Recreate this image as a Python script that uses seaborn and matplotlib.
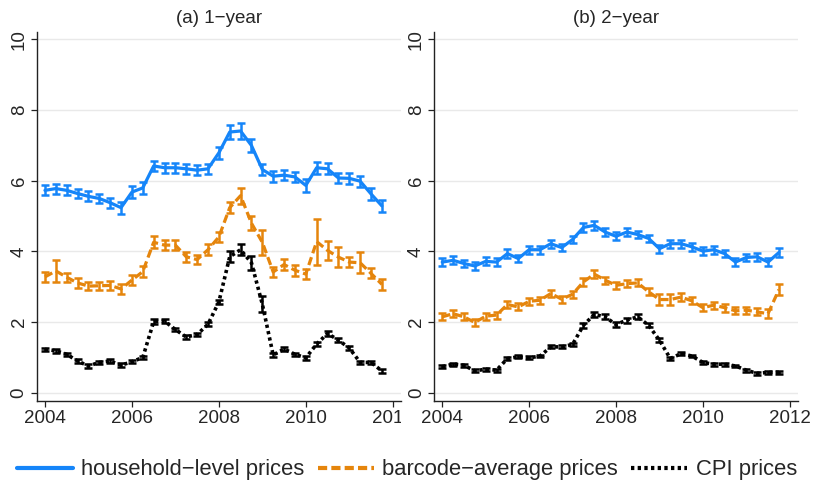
import numpy as np
import pandas as pd
import matplotlib
matplotlib.use("Agg")
import matplotlib.pyplot as plt
from matplotlib.lines import Line2D
from matplotlib.transforms import Bbox, TransformedBbox
import seaborn as sns

# ---- data -------------------------------------------------------------
quarters = pd.period_range("2004Q1", "2011Q4", freq="Q")

# (a) 1-year horizon
hh_1y = [5.73, 5.78, 5.73, 5.64, 5.56, 5.50, 5.38, 5.24, 5.68, 5.80, 6.42, 6.37,
         6.37, 6.34, 6.30, 6.34, 6.79, 7.38, 7.41, 7.00, 6.32, 6.13, 6.16, 6.11,
         5.87, 6.37, 6.34, 6.08, 6.07, 5.99, 5.63, 5.29]
hh_1y_err = [0.14, 0.14, 0.14, 0.14, 0.14, 0.14, 0.14, 0.17, 0.17, 0.16, 0.15, 0.14,
             0.14, 0.14, 0.14, 0.14, 0.16, 0.19, 0.22, 0.19, 0.16, 0.15, 0.15, 0.15,
             0.18, 0.17, 0.16, 0.15, 0.15, 0.16, 0.18, 0.18]
bc_1y = [3.28, 3.45, 3.27, 3.11, 3.02, 3.03, 3.04, 2.94, 3.19, 3.43, 4.26, 4.18,
         4.18, 3.85, 3.77, 4.05, 4.41, 5.24, 5.58, 4.80, 4.26, 3.42, 3.63, 3.47,
         3.36, 4.28, 4.03, 3.84, 3.70, 3.68, 3.38, 3.07]
bc_1y_err = [0.14, 0.31, 0.13, 0.13, 0.12, 0.11, 0.12, 0.15, 0.14, 0.15, 0.17, 0.14,
             0.14, 0.14, 0.12, 0.15, 0.13, 0.16, 0.23, 0.20, 0.36, 0.14, 0.16, 0.16,
             0.15, 0.65, 0.27, 0.29, 0.15, 0.30, 0.14, 0.16]
cpi_1y = [1.23, 1.19, 1.09, 0.90, 0.76, 0.86, 0.90, 0.78, 0.88, 1.00, 2.01, 2.03,
          1.79, 1.58, 1.65, 1.94, 2.57, 3.85, 4.05, 3.68, 2.51, 1.07, 1.24, 1.09,
          0.99, 1.38, 1.68, 1.49, 1.27, 0.86, 0.86, 0.62]
cpi_1y_err = [0.05, 0.05, 0.05, 0.05, 0.05, 0.05, 0.05, 0.05, 0.05, 0.05, 0.07, 0.06,
              0.05, 0.05, 0.05, 0.06, 0.07, 0.16, 0.15, 0.19, 0.22, 0.06, 0.05, 0.05,
              0.05, 0.06, 0.06, 0.05, 0.05, 0.05, 0.05, 0.05]

# (b) 2-year horizon
hh_2y = [3.70, 3.75, 3.66, 3.59, 3.72, 3.70, 3.94, 3.80, 4.05, 4.05, 4.22, 4.11,
         4.34, 4.68, 4.74, 4.55, 4.43, 4.55, 4.48, 4.37, 4.08, 4.22, 4.22, 4.13,
         4.01, 4.05, 3.94, 3.70, 3.83, 3.85, 3.70, 3.97]
hh_2y_err = [0.11, 0.11, 0.11, 0.11, 0.11, 0.11, 0.12, 0.11, 0.11, 0.11, 0.11, 0.11,
             0.11, 0.12, 0.12, 0.11, 0.11, 0.11, 0.11, 0.11, 0.11, 0.11, 0.11, 0.11,
             0.11, 0.11, 0.11, 0.11, 0.11, 0.11, 0.12, 0.14]
bc_2y = [2.15, 2.24, 2.15, 1.99, 2.17, 2.20, 2.50, 2.43, 2.59, 2.62, 2.81, 2.65,
         2.79, 3.14, 3.36, 3.19, 3.04, 3.09, 3.11, 2.86, 2.64, 2.64, 2.71, 2.60,
         2.41, 2.48, 2.41, 2.32, 2.34, 2.29, 2.24, 2.92]
bc_2y_err = [0.10, 0.10, 0.10, 0.10, 0.10, 0.10, 0.10, 0.10, 0.10, 0.10, 0.10, 0.10,
             0.10, 0.12, 0.12, 0.10, 0.10, 0.10, 0.10, 0.10, 0.16, 0.16, 0.11, 0.10,
             0.10, 0.10, 0.11, 0.10, 0.10, 0.10, 0.13, 0.16]
cpi_2y = [0.74, 0.81, 0.78, 0.62, 0.67, 0.64, 0.97, 1.02, 0.99, 1.04, 1.30, 1.30,
          1.37, 1.91, 2.22, 2.15, 1.93, 2.06, 2.15, 1.91, 1.49, 0.97, 1.11, 1.04,
          0.86, 0.81, 0.81, 0.76, 0.64, 0.55, 0.58, 0.58]
cpi_2y_err = [0.04, 0.04, 0.04, 0.04, 0.04, 0.04, 0.04, 0.04, 0.04, 0.04, 0.04, 0.04,
              0.04, 0.07, 0.07, 0.07, 0.07, 0.07, 0.07, 0.06, 0.06, 0.05, 0.04, 0.04,
              0.04, 0.04, 0.04, 0.04, 0.04, 0.04, 0.04, 0.04]

series_names = ["household\u2212level prices", "barcode\u2212average prices", "CPI prices"]
panel_titles = ["(a) 1\u2212year", "(b) 2\u2212year"]
year_ticks = [2004, 2006, 2008, 2010, 2012]
value_ticks = [0, 2, 4, 6, 8, 10]

# ---- styling ----------------------------------------------------------
sns.set_theme(style="white")
plt.rcParams["font.family"] = ["Liberation Sans", "DejaVu Sans"]

colors = {series_names[0]: "#1585F9", series_names[1]: "#E5850C", series_names[2]: "#000000"}
dashes = {series_names[0]: "", series_names[1]: (2.6, 1.3), series_names[2]: (0.9, 0.9)}
widths = {series_names[0]: 2.3, series_names[1]: 2.3, series_names[2]: 2.6}

year_pos = quarters.year + (quarters.quarter - 1) / 4.0

panels = [
    [(hh_1y, hh_1y_err), (bc_1y, bc_1y_err), (cpi_1y, cpi_1y_err)],
    [(hh_2y, hh_2y_err), (bc_2y, bc_2y_err), (cpi_2y, cpi_2y_err)],
]

W, H = 814, 484
fig = plt.figure(figsize=(W / 100, H / 100), dpi=100)
ax_px = [(36.7, 401.0), (434.0, 798.0)]
top_px, bot_px = 31.7, 401.3

for i, (panel, (x0, x1)) in enumerate(zip(panels, ax_px)):
    ax = fig.add_axes([x0 / W, 1 - bot_px / H, (x1 - x0) / W, (bot_px - top_px) / H])
    frames = []
    for name, (vals, errs) in zip(series_names, panel):
        frames.append(pd.DataFrame({"year": year_pos, "value": vals, "err": errs,
                                    "series": name}))
    df = pd.concat(frames, ignore_index=True)

    for y in value_ticks:
        ax.axhline(y, color="#e9e9e9", lw=1.0, zorder=0)

    for name in series_names:
        sub = df[df["series"] == name]
        sns.lineplot(data=sub, x="year", y="value", color=colors[name],
                     lw=widths[name], dashes=False, ax=ax, legend=False, zorder=3)
        line = ax.get_lines()[-1]
        if dashes[name]:
            line.set_dashes(dashes[name])
            line.set_dash_capstyle("butt")
        ax.errorbar(sub["year"], sub["value"], yerr=sub["err"], fmt="none",
                    ecolor=colors[name], elinewidth=1.8, capsize=2.9, capthick=1.8,
                    zorder=4)

    ax.set_xlim(2003.81, 2012.19)
    ax.set_ylim(-0.24, 10.22)
    ax.set_xticks(year_ticks)
    ax.set_xticklabels([str(t) for t in year_ticks])
    ax.set_yticks(value_ticks)
    ax.set_yticklabels([str(t) for t in value_ticks], rotation=90, va="center")
    ax.set_xlabel("")
    ax.set_ylabel("")
    ax.set_title(panel_titles[i], fontsize=13.5, pad=6)
    for s in ["top", "right"]:
        ax.spines[s].set_visible(False)
    for s in ["left", "bottom"]:
        ax.spines[s].set_color("#222222")
        ax.spines[s].set_linewidth(1.0)
    ax.tick_params(axis="both", direction="out", length=4, width=0.9, color="#222222",
                   labelsize=13.5, pad=2.5, bottom=True, left=True)
    ax.set_facecolor("white")
    ax.grid(False)

    if i == 0:
        clip = TransformedBbox(Bbox([[0, 0], [x1 / W, 1]]), fig.transFigure)
        for lbl in ax.get_xticklabels():
            lbl.set_clip_on(True)
            lbl.set_clip_box(clip)

handles = [Line2D([], [], color=colors[n], lw=3.0) for n in series_names]
handles[1].set_dashes((2.2, 1.0))
handles[2].set_dashes((0.8, 0.8))
fig.legend(handles, series_names, loc="center", bbox_to_anchor=(0.5, 1 - 470 / H),
           ncol=3, frameon=False, fontsize=15.8, handlelength=2.55, handletextpad=0.4,
           columnspacing=0.6)

fig.savefig("out.png", dpi=100, facecolor="white")
